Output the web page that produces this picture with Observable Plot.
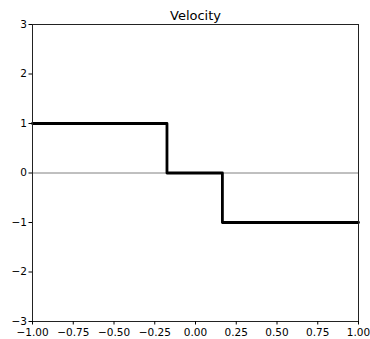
<!DOCTYPE html>
<html>
<head>
<meta charset="utf-8">
<script src="https://cdn.jsdelivr.net/npm/d3@7"></script>
<script src="https://cdn.jsdelivr.net/npm/@observablehq/plot@0.6"></script>
<style>
  body { margin: 0; background: #fff; }
  svg { font-family: "DejaVu Sans", sans-serif; }
</style>
</head>
<body>
<div id="chart"></div>
<script>
const title = "Velocity";
const stepX = [-1.0, -0.175, 0.165, 1.0];
const stepY = [1, 0, -1, -1];
const xTicks = [-1, -0.75, -0.5, -0.25, 0, 0.25, 0.5, 0.75, 1];
const yTicks = [-3, -2, -1, 0, 1, 2, 3];

const data = stepX.map((x, i) => ({x, y: stepY[i]}));
const minus = s => s.replace(/-/g, "\u2212");

const plot = Plot.plot({
  width: 370,
  height: 339,
  marginLeft: 32,
  marginRight: 12,
  marginTop: 24,
  marginBottom: 18,
  style: {background: "#fff", fontSize: "10.5px", fontFamily: "DejaVu Sans, sans-serif", color: "#000"},
  x: {domain: [-1, 1], ticks: xTicks, tickFormat: d => minus(d3.format(".2f")(d)), label: null, tickSize: 3.5, tickPadding: 2},
  y: {domain: [-3, 3], ticks: yTicks, tickFormat: d => minus(String(d)), label: null, tickSize: 3.5, tickPadding: 2},
  marks: [
    Plot.ruleY([0], {stroke: "#808080", strokeWidth: 1}),
    Plot.line(data, {x: "x", y: "y", curve: "step-after", stroke: "#000", strokeWidth: 2.8}),
    Plot.frame({stroke: "#222", strokeWidth: 1}),
    Plot.axisX({ticks: xTicks, tickFormat: d => minus(d3.format(".2f")(d)), tickSize: 3.5, tickPadding: 3.5, label: null, fontSize: 10.5}),
    Plot.axisY({ticks: yTicks, tickFormat: d => minus(String(d)), tickSize: 3.5, tickPadding: 2, label: null, fontSize: 10.5}),
    Plot.text([title], {frameAnchor: "top", dy: -5, fontSize: 13, fill: "#000", lineAnchor: "bottom"})
  ]
});
document.getElementById("chart").appendChild(plot);
</script>
</body>
</html>
